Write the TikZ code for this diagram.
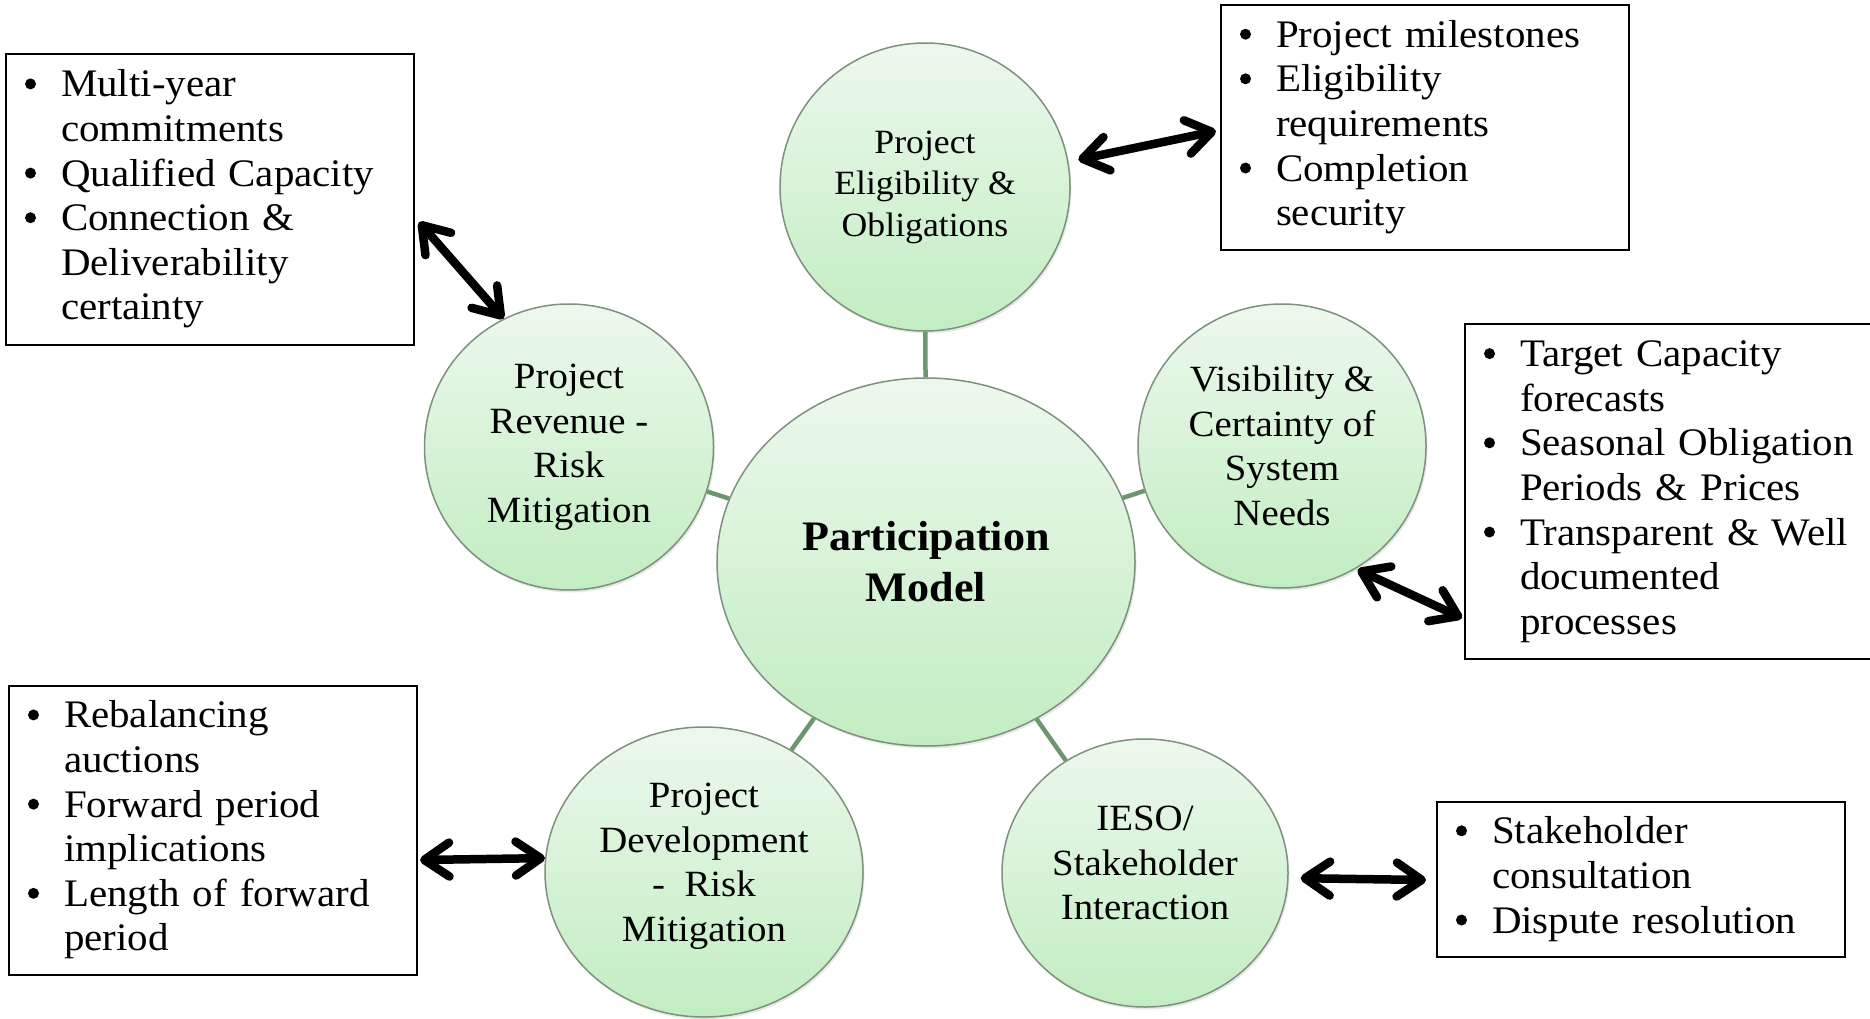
\documentclass[tikz,border=0pt]{standalone}
\usepackage{fontspec}
\setmainfont[FakeStretch=1.05]{Liberation Serif}
\usetikzlibrary{shapes.geometric,arrows.meta,shadows,calc}
\definecolor{ctop}{HTML}{EDF8ED}
\definecolor{cbot}{HTML}{C2EDC2}
\definecolor{cbord}{HTML}{7D917D}
\definecolor{conn}{HTML}{6C9670}
\tikzset{
  bub/.style={ellipse, draw=cbord, line width=1.5pt, top color=ctop, bottom color=cbot,
    inner sep=0pt, align=center, font=\fontsize{37}{44.5}\selectfont,
    drop shadow={opacity=0.18, shadow xshift=1.5pt, shadow yshift=-2.5pt}},
  bubtext/.style={inner sep=0pt, align=center, font=\fontsize{37}{44.5}\selectfont},
  bx/.style={draw=black, line width=2pt, anchor=north west, inner xsep=16pt, inner ysep=0pt,
    align=left, minimum width=408pt, text width=376pt, font=\fontsize{39}{44.6}\selectfont},
  conn/.style={draw=conn, line width=4.5pt},
  dbl/.style={line width=8.5pt, line cap=round,
    {Straight Barb[length=25pt,width=34pt,round]}-{Straight Barb[length=25pt,width=34pt,round]}}
}
\newcommand{\bu}{\hspace*{3pt}\tikz[baseline=0pt]\fill[black] (0pt,13pt) circle[radius=5.5pt];}
\begin{document}
\begin{tikzpicture}[x=1pt,y=-1pt]
\useasboundingbox (0,0) rectangle (1870,1019);

% bubbles
\node[bub, minimum width=418pt, minimum height=368pt, font=\fontsize{42}{51}\selectfont\bfseries] (pm) at (926,562) {Participation\\Model};
\node[bub, minimum width=290pt, minimum height=288pt, font=\fontsize{34}{41.5}\selectfont] (tc) at (925,187) {Project\\Eligibility \&\\Obligations};
\node[bub, minimum width=289pt, minimum height=286pt] (lc) at (569,447) {Project\\Revenue -\\Risk\\Mitigation};
\node[bub, minimum width=288pt, minimum height=284pt] (rc) at (1282,446) {Visibility \&\\Certainty of\\System\\Needs};
\node[bub, minimum width=318pt, minimum height=290pt] (blc) at (704,872) {};
\node[bubtext] (blct) at (704,866) {Project\\Development\\-~ Risk\\Mitigation};
\node[bub, minimum width=286pt, minimum height=268pt] (brc) at (1145,873) {};
\node[bubtext] (brct) at (1145,863) {IESO/\\Stakeholder\\Interaction};

% connectors to centre
\draw[conn] (pm) -- (tc);
\draw[conn] (pm) -- (lc);
\draw[conn] (pm) -- (rc);
\draw[conn] (pm) -- (blc);
\draw[conn] (pm) -- (brc);

% boxes
\node[bx, minimum height=291pt] (tlbox) at (5,53) {\begin{tabular}{@{}p{39pt}@{}l@{}}
\bu & Multi-year\\
 & commitments\\
\bu & Qualified Capacity\\
\bu & Connection \&\\
 & Deliverability\\
 & certainty
\end{tabular}};
\node[bx, minimum height=245pt] (trbox) at (1220,4) {\begin{tabular}{@{}p{39pt}@{}l@{}}
\bu & Project milestones\\
\bu & Eligibility\\
 & requirements\\
\bu & Completion\\
 & security
\end{tabular}};
\node[bx, minimum width=406pt, text width=374pt, minimum height=335pt] (rbox) at (1464,323) {\begin{tabular}{@{}p{39pt}@{}l@{}}
\bu & Target Capacity\\
 & forecasts\\
\bu & Seasonal Obligation\\
 & Periods \& Prices\\
\bu & Transparent \& Well\\
 & documented\\
 & processes
\end{tabular}};
\node[bx, minimum height=289pt] (blbox) at (8,685) {\begin{tabular}{@{}p{39pt}@{}l@{}}
\bu & Rebalancing\\
 & auctions\\
\bu & Forward period\\
 & implications\\
\bu & Length of forward\\
 & period
\end{tabular}};
\node[bx, minimum height=155pt] (brbox) at (1436,801) {\begin{tabular}{@{}p{39pt}@{}l@{}}
\bu & Stakeholder\\
 & consultation\\
\bu & Dispute resolution
\end{tabular}};

% arrow ends at boxes
\coordinate (e1) at (419,222);
\coordinate (e2) at (1216,131);
\coordinate (e3) at (1462,618);
\coordinate (e4) at (420,860);
\coordinate (e5) at (1426,880);

\draw[dbl] (e1) -- (lc.117.6);
\draw[dbl, shorten >=10pt] (e2) -- (tc.10.4);
\draw[dbl, shorten >=2pt] (e3) -- (rc.-59.2);
\draw[dbl] (e4) -- (blc.175.7);
\draw[dbl, shorten >=12pt] (e5) -- (brc.-2.6);
\end{tikzpicture}
\end{document}
